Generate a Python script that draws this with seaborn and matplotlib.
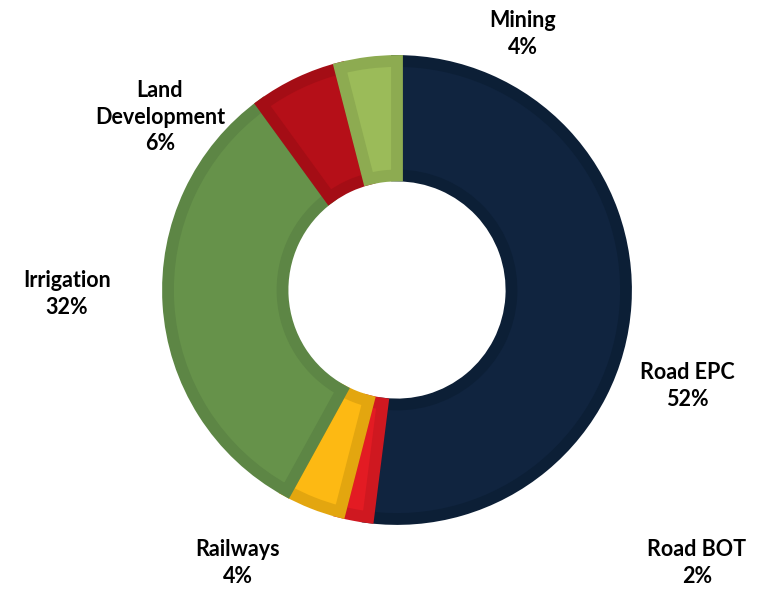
import matplotlib
matplotlib.use("Agg")
import matplotlib.pyplot as plt
import seaborn as sns

sns.set_theme(style="white")
plt.rcParams['font.family'] = ['Lato', 'DejaVu Sans']

categories = ["Road EPC", "Road BOT", "Railways", "Irrigation", "Land\nDevelopment", "Mining"]
shares = [52, 2, 4, 32, 6, 4]
fill_colors = ["#10243f", "#e31b23", "#fdb913", "#66924a", "#b50f18", "#9bbb59"]
edge_colors = ["#0c1f36", "#cf1820", "#e3a60f", "#5d8645", "#a40d15", "#8dab51"]

# layout (pixel positions of label centers, from top-left)
label_pos = [(687, 386), (697, 563), (238, 563), (67, 294), (160, 117), (523, 34)]

W, H = 766, 590
fig = plt.figure(figsize=(W / 100, H / 100), dpi=100)
ax = fig.add_axes([0, 0, 1, 1])

cx, cy, R = 397, H - 290, 229
wedges, _ = ax.pie(shares, colors=fill_colors, startangle=90, counterclock=False,
                   center=(cx, cy), radius=R, frame=True,
                   wedgeprops=dict(width=R * 0.5, linewidth=8.5))
ax.set_xlim(0, W)
ax.set_ylim(0, H)
ax.set_aspect("equal")
ax.axis("off")
for w, ec in zip(wedges, edge_colors):
    w.set_edgecolor(ec)
    w.set_clip_path(w.get_path(), w.get_transform())

for name, val, (px, py) in zip(categories, shares, label_pos):
    ax.text(px, H - py, f"{name}\n{val}%", ha="center", va="center",
            fontsize=15.5, fontweight="bold", color="#000000", linespacing=1.3)

fig.savefig("out.png", dpi=100)
